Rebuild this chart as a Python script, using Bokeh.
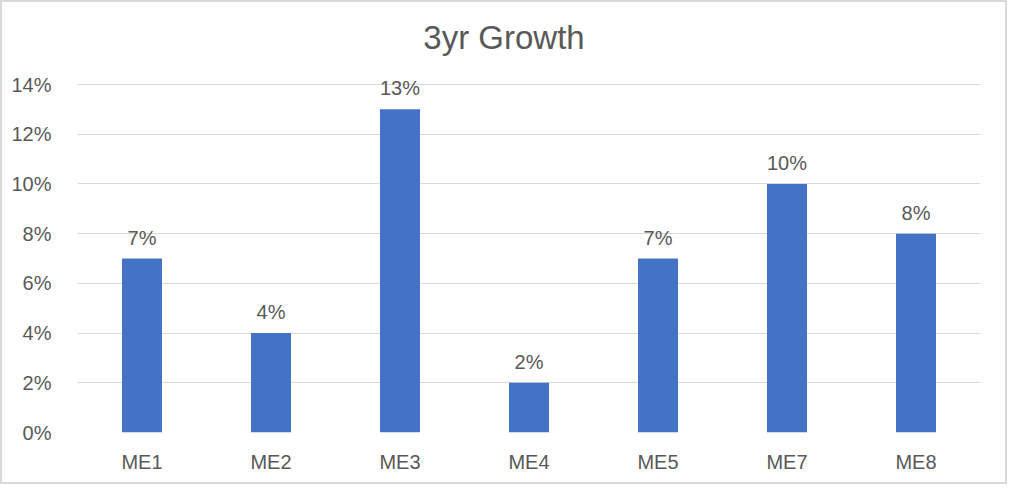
from bokeh.plotting import figure
from bokeh.models import ColumnDataSource, LabelSet, Label, NumeralTickFormatter, FixedTicker
from bokeh.core.properties import value
from bokeh.embed import file_html
from bokeh.resources import INLINE

categories = ["ME1", "ME2", "ME3", "ME4", "ME5", "ME7", "ME8"]
growth = [0.07, 0.04, 0.13, 0.02, 0.07, 0.10, 0.08]
labels = ["7%", "4%", "13%", "2%", "7%", "10%", "8%"]
y_ticks = [0, 0.02, 0.04, 0.06, 0.08, 0.10, 0.12, 0.14]
title_text = "3yr Growth"

TEXT = "#595959"
FONT = "Liberation Sans"

W, H = 1007, 484
LEFT, RIGHT, TOP, BOTTOM = 77, 27, 84, 52
Y_MAX = 0.14
PX_PER_UNIT = (H - TOP - BOTTOM) / Y_MAX
PX_PER_CAT = (W - LEFT - RIGHT) / len(categories)

src = ColumnDataSource(dict(cat=categories, val=growth, lab=labels))

p = figure(x_range=categories, y_range=(0, Y_MAX + TOP / PX_PER_UNIT), width=W, height=H,
           output_backend="svg", toolbar_location=None,
           min_border_left=LEFT, min_border_right=RIGHT, min_border_top=0,
           min_border_bottom=BOTTOM)
p.styles = {"box-shadow": "inset 0 0 0 2px #d9d9d9", "background-color": "white"}
p.border_fill_color = None
p.background_fill_color = None
p.outline_line_color = None

p.vbar(x="cat", top="val", width=0.31, source=src, color="#4472C4", line_color=None)

p.add_layout(LabelSet(x="cat", y="val", text="lab", source=src, text_align="center",
                      text_baseline="alphabetic", y_offset=14, text_font=value(FONT),
                      text_font_size=value("20px"), text_color=value(TEXT)))

# title centred on the whole chart, not on the plot area
p.add_layout(Label(x=(W / 2 - LEFT) / PX_PER_CAT, y=Y_MAX + 47 / PX_PER_UNIT, text=title_text,
                   text_align="center", text_baseline="middle", text_font=FONT,
                   text_font_size="33px", text_color=TEXT))

p.yaxis.ticker = FixedTicker(ticks=y_ticks)
p.yaxis.formatter = NumeralTickFormatter(format="0%")
for ax in (p.xaxis[0], p.yaxis[0]):
    ax.axis_line_color = None
    ax.major_tick_line_color = None
    ax.minor_tick_line_color = None
    ax.major_label_text_font = FONT
    ax.major_label_text_font_size = "20px"
    ax.major_label_text_color = TEXT
p.yaxis.major_label_standoff = 20
p.xaxis.major_label_standoff = 12

p.xgrid.grid_line_color = None
p.ygrid.grid_line_color = "#d9d9d9"
p.ygrid.grid_line_width = 1

open("out.html", "w").write(file_html(p, INLINE))
